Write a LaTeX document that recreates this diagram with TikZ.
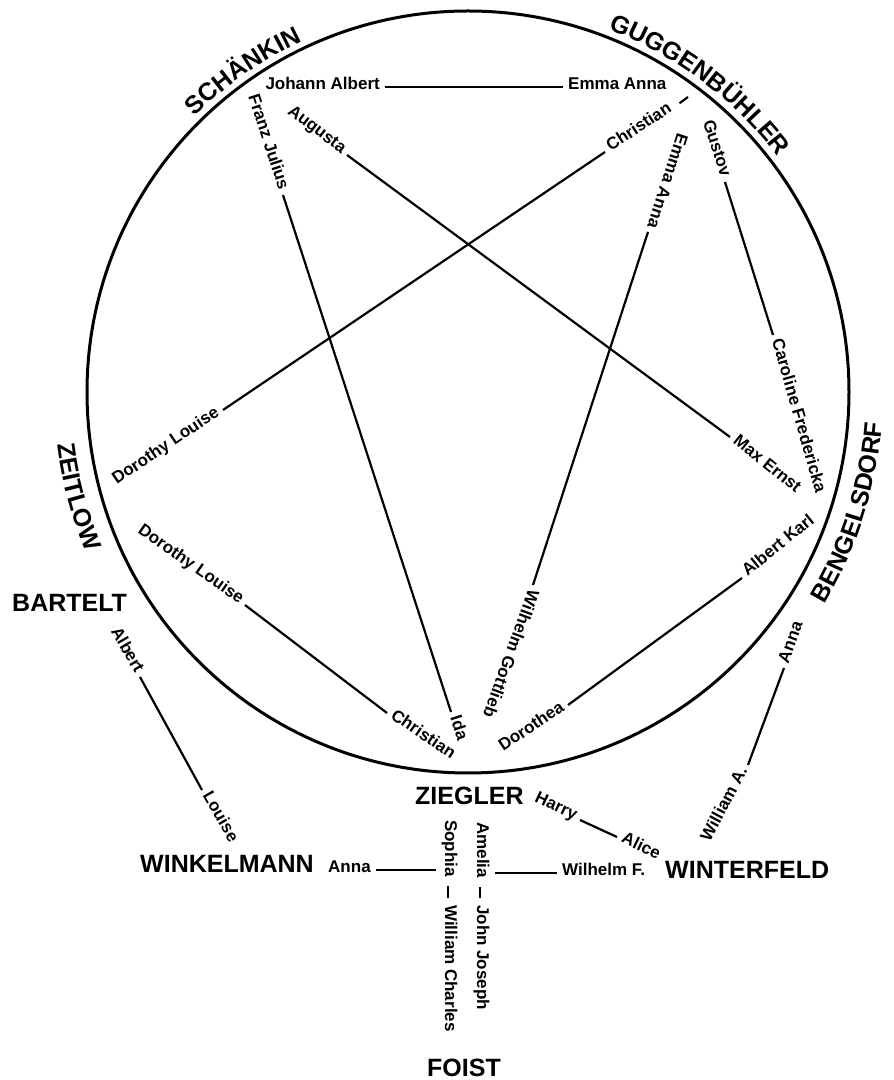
\documentclass[tikz,border=0pt]{standalone}
\usepackage{fontspec}
\setmainfont{Liberation Sans}
\usetikzlibrary{calc,decorations.text}

\newcommand{\famfont}{\fontsize{25}{25}\selectfont\bfseries}

\begin{document}
\begin{tikzpicture}[
x=1pt, y=1pt,
fam/.style={font=\famfont, inner sep=0pt},
person/.style={font=\fontsize{17}{17}\selectfont\bfseries, inner sep=5pt},
link/.style={line width=2.2pt},
ring/.style={line width=3pt},
curved/.style={decorate, decoration={text along path, text align=center, text={|\famfont|#1}}} ]

\useasboundingbox (0,0) rectangle (894,1080);

\coordinate (C) at (468,688);

\draw[ring] (C) circle (381);

% family names round the circle
\path[curved=SCHÄNKIN] ($(C)+(150:388)$) arc[start angle=150, end angle=100, radius=388];

\path[curved=GUGGENBÜHLER] ($(C)+(78:389)$) arc[start angle=78, end angle=28, radius=389];

\path[curved=ZEITLOW] ($(C)+(175:414)$) arc[start angle=175, end angle=215, radius=414];

\path[curved=BENGELSDORF] ($(C)+(-40:415)$) arc[start angle=-40, end angle=5, radius=415];

\node[fam, anchor=base west] (ZIEGLER) at (415,275) {ZIEGLER};

\node[fam, anchor=base west] (BARTELT) at (12,468) {BARTELT};

\node[fam, anchor=base west] (WINKELMANN) at (140,207) {WINKELMANN};

\node[fam, anchor=base west] (WINTERFELD) at (665,201) {WINTERFELD};

\node[fam, anchor=base west] (FOIST) at (427,4) {FOIST};

% names inside the circle
\node[person, anchor=mid east] (JA) at (385,993) {Johann Albert};

\node[person, anchor=mid west] (EA) at (563,993) {Emma Anna};

\node[person, anchor=mid east, rotate=-72] (FJ) at (283,885) {Franz Julius};

\node[person, anchor=mid west, rotate=-72] (Ida) at (451,368) {Ida};

\node[person, anchor=mid east, rotate=-37] (Aug) at (347,925) {Augusta};

\node[person, anchor=mid west, rotate=-39] (ME) at (730,643) {Max Ernst};

\node[person, anchor=mid west, rotate=33] (Chr) at (605,928) {Christian};

\coordinate (stub) at (688,983);

\node[person, anchor=mid east, rotate=34] (DL) at (223,670) {Dorothy Louise};

\node[person, anchor=mid east, rotate=-108] (EA2) at (648,848) {Emma Anna};

\node[person, anchor=mid west, rotate=-110] (WG) at (533,495) {Wilhelm Gottlieb};

\node[person, anchor=mid east, rotate=-72] (Gus) at (725,898) {Gustov};

\node[person, anchor=mid west, rotate=-74] (CF) at (773,745) {Caroline Fredericka};

\node[person, anchor=mid east, rotate=-35] (DL2) at (245,475) {Dorothy Louise};

\node[person, anchor=mid west, rotate=-34] (Chr2) at (387,367) {Christian};

\node[person, anchor=mid west, rotate=39] (AK) at (742,502) {Albert Karl};

\node[person, anchor=mid east, rotate=34] (Dor) at (568,375) {Dorothea};

% names outside the circle
\node[person, anchor=mid east, rotate=-60] (Alb) at (140,403) {Albert};

\node[person, anchor=mid west, rotate=-60] (Lou) at (202,290) {Louise};

\node[person, anchor=mid west, rotate=70] (AnB) at (784,412) {Anna};

\node[person, anchor=mid east, rotate=62] (WA) at (748,315) {William A.};

\node[person, anchor=mid east, rotate=-25] (Har) at (580,260) {Harry};

\node[person, anchor=mid west, rotate=-26] (Ali) at (617,243) {Alice};

\node[person, anchor=base west] (AnW) at (323,207) {Anna};

\node[person, anchor=base west, rotate=-90] (Sop) at (445,265) {Sophia};

\node[person, anchor=base west, rotate=-90] (WC) at (445,180) {William Charles};

\node[person, anchor=base west, rotate=-90] (Ame) at (477,263) {Amelia};

\node[person, anchor=base west, rotate=-90] (JJ) at (477,180) {John Joseph};

\node[person, anchor=base west] (WF) at (557,204) {Wilhelm F.};

% links
\draw[link] (JA.mid east) -- (EA.mid west);

\draw[link] (FJ.mid east) -- (Ida.mid west);

\draw[link] (Aug.mid east) -- (ME.mid west);

\draw[link] (DL.mid east) -- (Chr.mid west);

\draw[link, shorten <=5pt] (Chr.mid east) -- (stub);

\draw[link] (EA2.mid east) -- (WG.mid west);

\draw[link] (Gus.mid east) -- (CF.mid west);

\draw[link] (DL2.mid east) -- (Chr2.mid west);

\draw[link] (Dor.mid east) -- (AK.mid west);

\draw[link] (Alb.mid east) -- (Lou.mid west);

\draw[link] (WA.mid east) -- (AnB.mid west);

\draw[link] (Har.mid east) -- (Ali.mid west);

\draw[link] (AnW.mid east) -- (AnW.mid east -| Sop.south);

\draw[link] (Ame.north |- WF.mid west) -- (WF.mid west);

\draw[link, shorten <=4pt, shorten >=2pt] (Sop.mid east) -- (WC.mid west);

\draw[link, shorten <=4pt, shorten >=2pt] (Ame.mid east) -- (JJ.mid west);

\end{tikzpicture}
\end{document}
